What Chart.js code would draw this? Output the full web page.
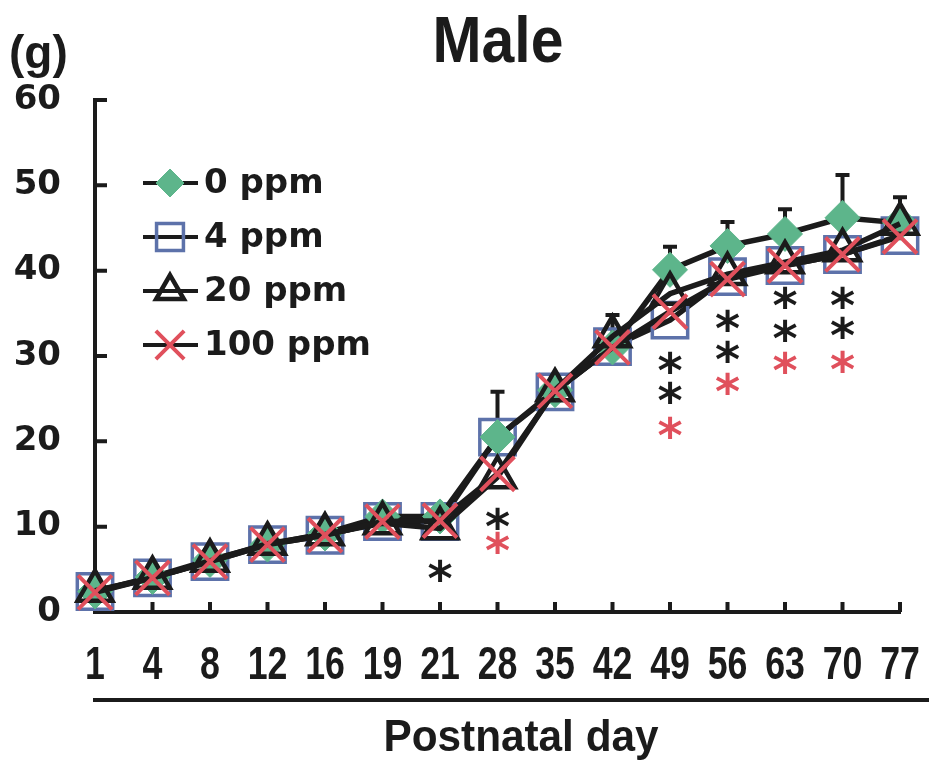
<!DOCTYPE html>
<html>
<head>
<meta charset="utf-8">
<script src="https://cdn.jsdelivr.net/npm/chart.js@4.4.1/dist/chart.umd.min.js"></script>
<style>
  html, body { margin: 0; background: #fff; }
  #wrap { width: 929px; height: 761px; }
</style>
</head>
<body>
<div id="wrap"><canvas id="growth"></canvas></div>
<script>
// postnatal days (x categories) and body weight in g
const days = ['1', '4', '8', '12', '16', '19', '21', '28', '35', '42', '49', '56', '63', '70', '77'];
const ppm0   = [2.4, 4.1, 6.1, 7.9, 9.2, 11.2, 11.2, 20.5, 26.0, 31.0, 40.1, 42.9, 44.3, 46.2, 45.6];
const ppm4   = [2.4, 4.0, 5.9, 7.9, 9.0, 10.6, 10.6, 20.5, 25.8, 31.1, 34.2, 39.3, 40.6, 41.9, 44.1];
const ppm20  = [2.5, 4.0, 6.0, 8.0, 9.1, 10.4, 9.8, 15.8, 26.0, 32.3, 37.3, 39.6, 41.0, 42.4, 45.5];
const ppm100 = [2.3, 4.0, 5.9, 7.9, 9.0, 10.6, 10.7, 16.2, 25.9, 31.0, 35.2, 39.0, 40.6, 41.9, 44.0];
// upper error bars (SD) that show above the markers
const sd0  = [0, 0, 0, 0, 0, 0, 0, 5.3, 0, 0, 2.7, 2.8, 2.9, 5.0, 0];
const sd20 = [0, 0, 0, 0, 0, 0, 0, 0, 0, 2.5, 0, 0, 0, 0, 3.1];
// significance marks, y position in g
const starsBlack = [[], [], [], [], [], [], [4.9], [11.0], [], [], [29.2, 25.7], [34.2, 30.5], [36.8, 33.0], [36.9, 33.3], []];
const starsRed   = [[], [], [], [], [], [], [], [8.1], [], [], [21.6], [26.8], [29.2], [29.3], []];
const yTicks = [0, 10, 20, 30, 40, 50, 60];

const ink = '#1b1b1b';
const green = '#5db58b';
const blue = '#5d72aa';
const red = '#e0505c';

const decor = {
  id: 'decor',
  beforeDatasetsDraw(chart) {
    const { ctx, scales: { x, y } } = chart;
    ctx.save();
    ctx.strokeStyle = ink;
    ctx.lineWidth = 4;
    ctx.beginPath();
    y.ticks.forEach((t, i) => {
      const py = y.getPixelForTick(i);
      ctx.moveTo(x.left, py);
      ctx.lineTo(x.left + 12, py);
    });
    x.ticks.forEach((t, i) => {
      const px = x.getPixelForTick(i);
      ctx.moveTo(px, y.bottom);
      ctx.lineTo(px, y.bottom - 10);
    });
    ctx.stroke();

    // error bars
    [[ppm0, sd0], [ppm20, sd20]].forEach(([vals, sd]) => {
      vals.forEach((v, i) => {
        if (!sd[i]) return;
        const px = x.getPixelForValue(i);
        const p0 = y.getPixelForValue(v);
        const p1 = y.getPixelForValue(v + sd[i]);
        ctx.beginPath();
        ctx.moveTo(px, p0);
        ctx.lineTo(px, p1);
        ctx.moveTo(px - 7, p1);
        ctx.lineTo(px + 7, p1);
        ctx.stroke();
      });
    });

    // x tick labels, condensed like the original
    ctx.fillStyle = ink;
    ctx.font = 'bold 47px "Liberation Sans"';
    ctx.textAlign = 'center';
    ctx.textBaseline = 'middle';
    x.ticks.forEach((t, i) => {
      const px = x.getPixelForTick(i);
      ctx.save();
      ctx.translate(px, 666);
      ctx.scale(0.76, 1);
      ctx.fillText(days[i], 0, 0);
      ctx.restore();
    });
    ctx.restore();
  },
  afterDatasetsDraw(chart) {
    const { ctx, scales: { x, y } } = chart;
    ctx.save();
    ctx.font = 'bold 48px "DejaVu Sans"';
    ctx.textAlign = 'center';
    ctx.textBaseline = 'alphabetic';
    const m = ctx.measureText('*');
    const off = (m.actualBoundingBoxAscent - m.actualBoundingBoxDescent) / 2;
    [[starsBlack, ink], [starsRed, red]].forEach(([list, col]) => {
      ctx.fillStyle = col;
      list.forEach((vals, i) => {
        vals.forEach(v => {
          ctx.fillText('*', x.getPixelForValue(i), y.getPixelForValue(v) + off);
        });
      });
    });
    ctx.restore();
  },
  afterDraw(chart) {
    const { ctx } = chart;
    ctx.save();
    ctx.fillStyle = ink;
    ctx.textBaseline = 'alphabetic';

    ctx.save();
    ctx.font = 'bold 64px "Liberation Sans"';
    ctx.textAlign = 'center';
    ctx.translate(498, 62);
    ctx.scale(0.92, 1);
    ctx.fillText('Male', 0, 0);
    ctx.restore();

    ctx.font = 'bold 46px "Liberation Sans"';
    ctx.textAlign = 'left';
    ctx.fillText('(g)', 9, 68);

    ctx.save();
    ctx.font = 'bold 45px "Liberation Sans"';
    ctx.textAlign = 'center';
    ctx.translate(521, 751);
    ctx.scale(0.94, 1);
    ctx.fillText('Postnatal day', 0, 0);
    ctx.restore();

    ctx.strokeStyle = ink;
    ctx.lineWidth = 4;
    ctx.beginPath();
    ctx.moveTo(93, 700);
    ctx.lineTo(929, 700);
    ctx.stroke();

    // legend
    const rows = [183, 237, 291, 345];
    const legendR = [14, 19, 16, 20];
    chart.data.datasets.forEach((ds, i) => {
      const cy = rows[i];
      ctx.strokeStyle = ink;
      ctx.lineWidth = 4;
      ctx.beginPath();
      ctx.moveTo(143, cy);
      ctx.lineTo(198, cy);
      ctx.stroke();
      ctx.fillStyle = ds.pointBackgroundColor;
      ctx.strokeStyle = ds.pointBorderColor;
      ctx.lineWidth = ds.pointBorderWidth;
      Chart.helpers.drawPoint(ctx, {
        pointStyle: ds.pointStyle, radius: legendR[i], rotation: 0, borderWidth: ds.pointBorderWidth
      }, 170, cy);
      ctx.fillStyle = ink;
      ctx.font = 'bold 34px "DejaVu Sans"';
      ctx.textAlign = 'left';
      ctx.textBaseline = 'middle';
      ctx.fillText(ds.label, 204, cy + 1);
    });
    ctx.restore();
  }
};

new Chart(document.getElementById('growth'), {
  type: 'line',
  data: {
    labels: days,
    datasets: [
      {
        label: '0 ppm', data: ppm0, order: 2,
        borderColor: ink, borderWidth: 5.5,
        pointStyle: 'rectRot', pointRadius: 17.5,
        pointBackgroundColor: green, pointBorderColor: green, pointBorderWidth: 1
      },
      {
        label: '4 ppm', data: ppm4, order: 3,
        borderColor: ink, borderWidth: 5.5,
        pointStyle: 'rect', pointRadius: 25,
        pointBackgroundColor: 'rgba(0,0,0,0)', pointBorderColor: blue, pointBorderWidth: 3.5
      },
      {
        label: '20 ppm', data: ppm20, order: 1,
        borderColor: ink, borderWidth: 5.5,
        pointStyle: 'triangle', pointRadius: 20,
        pointBackgroundColor: 'rgba(0,0,0,0)', pointBorderColor: ink, pointBorderWidth: 4.5
      },
      {
        label: '100 ppm', data: ppm100, order: 0,
        borderColor: ink, borderWidth: 5.5,
        pointStyle: 'crossRot', pointRadius: 24,
        pointBackgroundColor: red, pointBorderColor: red, pointBorderWidth: 4
      }
    ]
  },
  options: {
    responsive: true,
    maintainAspectRatio: false,
    animation: false,
    layout: { padding: { top: 100, right: 29, left: 0, bottom: 0 } },
    plugins: {
      legend: { display: false },
      tooltip: { enabled: false },
      title: { display: false }
    },
    elements: { line: { tension: 0 } },
    scales: {
      x: {
        offset: false,
        grid: { display: false, drawTicks: false },
        border: { display: true, color: ink, width: 4 },
        ticks: { display: false, autoSkip: false, maxRotation: 0 },
        afterFit(scale) { scale.height = 149; }
      },
      y: {
        min: 0, max: 60,
        afterBuildTicks(scale) { scale.ticks = yTicks.map(v => ({ value: v })); },
        grid: { display: false, drawTicks: false },
        border: { display: true, color: ink, width: 4 },
        ticks: {
          padding: 34, color: ink,
          font: { family: '"DejaVu Sans"', weight: 'bold', size: 34 }
        },
        afterFit(scale) { scale.width = 95; }
      }
    }
  },
  plugins: [decor]
});
</script>
</body>
</html>
